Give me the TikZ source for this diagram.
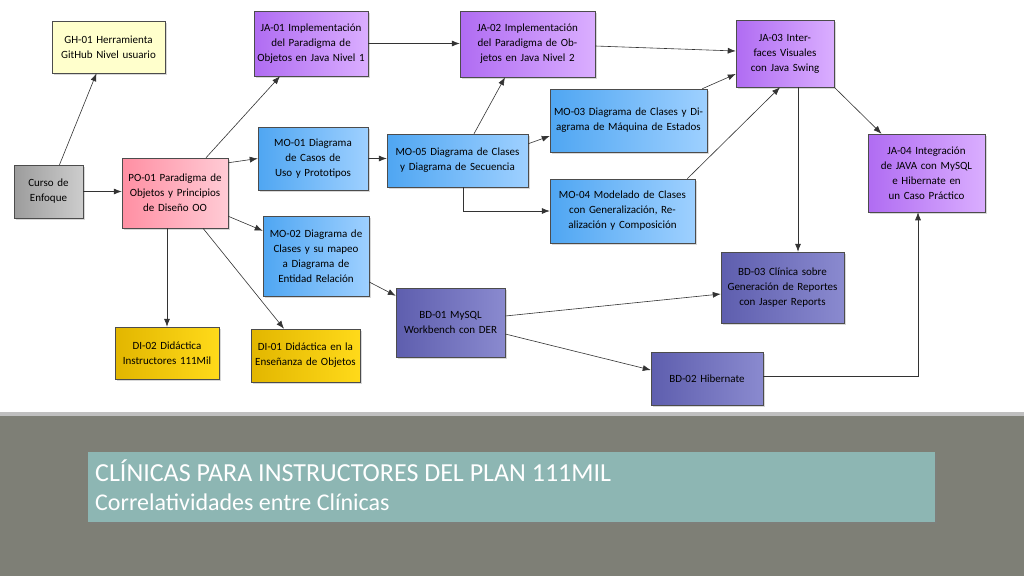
\documentclass[tikz,border=0pt]{standalone}
\usepackage{fontspec}
\setmainfont{Carlito}
\usetikzlibrary{arrows.meta,shadows}
\definecolor{gya}{HTML}{9C9C9C}\definecolor{gyb}{HTML}{CDCDCD}
\definecolor{pka}{HTML}{FF8FA3}\definecolor{pkb}{HTML}{FFCBD5}
\definecolor{pua}{HTML}{B06CF2}\definecolor{pub}{HTML}{DAAEFF}
\definecolor{bla}{HTML}{4FA6F2}\definecolor{blb}{HTML}{9ED0FF}
\definecolor{bda}{HTML}{5E5EAE}\definecolor{bdb}{HTML}{8A8ACF}
\definecolor{yea}{HTML}{E2B600}\definecolor{yeb}{HTML}{FFDA1A}
\definecolor{ghy}{HTML}{FFFFCC}
\definecolor{band}{HTML}{7E7F76}\definecolor{tbox}{HTML}{8DB6B3}
\tikzset{
 bx/.style={draw=black!70, line width=0.5pt, align=center, inner sep=2pt,
   font=\fontsize{11}{15}\selectfont,
   drop shadow={shadow xshift=1.5pt, shadow yshift=-1.5pt, opacity=0.3}},
 sz/.code 2 args={\pgfmathsetmacro\mytw{#1-4}\tikzset{minimum width=#1pt, text width=\mytw pt, minimum height=#2pt}},
 gr/.style={bx,left color=gya,right color=gyb},
 pk/.style={bx,left color=pka,right color=pkb},
 pu/.style={bx,left color=pua,right color=pub},
 bl/.style={bx,left color=bla,right color=blb},
 bd/.style={bx,left color=bda,right color=bdb},
 ye/.style={bx,left color=yea,right color=yeb},
 arr/.style={-{Latex[length=8pt,width=6pt]}, draw=black!80, line width=0.6pt},
}
\begin{document}
\begin{tikzpicture}[x=1pt,y=-1pt]
\path[use as bounding box] (0,0) rectangle (1024,576);
\fill[white] (0,0) rectangle (1024,412);
\fill[band] (0,412) rectangle (1024,576);
\fill[black!25] (0,412) rectangle (1024,416);
\node[bx,fill=ghy,sz={113}{52}] (gh) at (108.5,47) {GH-01 Herramienta GitHub Nivel usuario};
\node[gr,sz={69}{53}] (cu) at (48.5,191.5) {Curso de Enfoque};
\node[pk,sz={106}{70}] (po) at (175,193) {PO-01 Paradigma de Objetos y Principios de Diseño OO};
\node[pu,sz={114}{65}] (ja1) at (311,43.5) {JA-01 Implementación del Paradigma de Objetos en Java Nivel 1};
\node[bl,sz={110}{63}] (mo1) at (313,158.5) {MO-01 Diagrama de Casos de Uso y Prototipos};
\node[bl,sz={141}{53}] (mo5) at (457.5,160.5) {MO-05 Diagrama de Clases y Diagrama de Secuencia};
\node[bl,sz={106}{80}] (mo2) at (316,256) {MO-02 Diagrama de Clases y su mapeo a Diagrama de Entidad Relación};
\node[bd,sz={109}{69}] (bd1) at (450.5,322.5) {BD-01 MySQL Workbench con DER};
\node[ye,sz={104}{52}] (di2) at (167,353) {DI-02 Didáctica Instructores 111Mil};
\node[ye,sz={109}{53}] (di1) at (305.5,355.5) {DI-01 Didáctica en la Enseñanza de Objetos};
\node[pu,sz={135}{66}] (ja2) at (527.5,44) {JA-02 Implementación del Paradigma de Objetos en Java Nivel 2};
\node[pu,sz={98}{67}] (ja3) at (785,53.5) {JA-03 Interfaces Visuales con Java Swing};
\node[pu,sz={117}{78}] (ja4) at (926.5,173) {JA-04 Integración de JAVA con MySQL\\e Hibernate en un Caso Práctico};
\node[bl,sz={157}{63}] (mo3) at (628.5,120.5) {MO-03 Diagrama de Clases y Diagrama de Máquina de Estados};
\node[bl,sz={145}{64}] (mo4) at (622.5,211) {MO-04 Modelado de Clases con Generalización, Realización y Composición};
\node[bd,sz={123}{71}] (bd3) at (782.5,287.5) {BD-03 Clínica sobre Generación de Reportes con Jasper Reports};
\node[bd,sz={112}{53}] (bd2) at (707,378.5) {BD-02 Hibernate};
\draw[arr] ([xshift=11]cu.north) -- ([xshift=-12]gh.south);
\draw[arr] (cu.east) -- (cu.east -| po.west);
\draw[arr] ([xshift=31]po.north) -- ([xshift=-31]ja1.south);
\draw[arr] ([yshift=-5]po.north east) -- (mo1.west);
\draw[arr] ([yshift=12]po.south east) -- ([yshift=-15]mo2.north west);
\draw[arr] ([xshift=-8]po.south) -- (di2.north);
\draw[arr] ([xshift=28]po.south) -- ([xshift=-21.5]di1.north);
\draw[arr] (ja1.east) -- (ja1.east -| ja2.west);
\draw[arr] (mo1.east) -- (mo1.east -| mo5.west);
\draw[arr] ([xshift=16.5]mo5.north) -- ([xshift=-22.5]ja2.south);
\draw[arr] ([yshift=-10]mo5.north east) -- ([yshift=-15.5]mo3.west);
\draw[arr] ([xshift=5.5]mo5.south) |- (mo4.west);
\draw[arr] ([yshift=-2]ja2.east) -- ([yshift=2.5]ja3.west);
\draw[arr] ([xshift=-5]mo3.north east) -- ([yshift=-20.5]ja3.west);
\draw[arr] ([xshift=-8]mo4.north east) -- ([xshift=-5]ja3.south);
\draw[arr] ([xshift=13]ja3.south) -- ([xshift=13]ja3.south |- bd3.north);
\draw[arr] (ja3.south east) -- ([xshift=-45]ja4.north);
\draw[arr] ([yshift=6.5]bd1.east) -- ([yshift=-6.5]bd3.west);
\draw[arr] ([yshift=-11.5]bd1.east) -- ([yshift=8.5]bd2.west);
\draw[arr] ([yshift=2.5]bd2.east) -| ([xshift=-8.5]ja4.south);
\draw[arr] ([yshift=-26]mo2.east) -- ([yshift=-8]bd1.north west);
\node[fill=tbox, minimum width=847, minimum height=70, anchor=north west, inner sep=0,
  drop shadow={shadow xshift=2pt, shadow yshift=-2pt, opacity=0.4}] (tb) at (88,452) {};
\node[anchor=west, text=white, font=\fontsize{26}{28}\selectfont, inner sep=0] (t1) at (95,471) {CLÍNICAS PARA INSTRUCTORES DEL PLAN 111MIL};
\node[anchor=west, text=white, font=\fontsize{24}{26}\selectfont, inner sep=0] (t2) at (95,502) {Correlatividades entre Clínicas};
\end{tikzpicture}
\end{document}
